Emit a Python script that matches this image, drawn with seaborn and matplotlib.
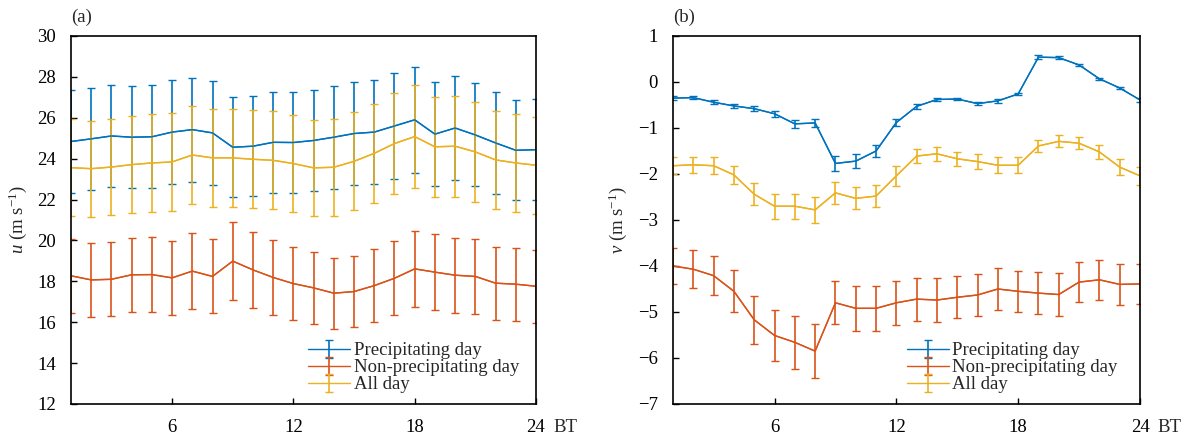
import numpy as np
import pandas as pd
import matplotlib
matplotlib.use("Agg")
import matplotlib.pyplot as plt
import seaborn as sns

hours = list(range(1, 25))
series_names = ["Precipitating day", "Non-precipitating day", "All day"]
colors = ["#0072BD", "#D95319", "#EDB120"]

# Panel (a): zonal wind u (m/s)
u_precip = [24.84, 24.97, 25.11, 25.05, 25.07, 25.30, 25.42, 25.26, 24.56, 24.61, 24.80, 24.79,
            24.89, 25.05, 25.23, 25.30, 25.60, 25.90, 25.20, 25.50, 25.16, 24.77, 24.41, 24.44]
u_precip_sd = [2.50, 2.50, 2.51, 2.50, 2.51, 2.53, 2.55, 2.54, 2.45, 2.46, 2.48, 2.48,
               2.48, 2.51, 2.53, 2.53, 2.58, 2.59, 2.54, 2.55, 2.52, 2.48, 2.45, 2.46]
u_nonprecip = [18.27, 18.07, 18.10, 18.32, 18.33, 18.17, 18.50, 18.24, 18.99, 18.56, 18.19, 17.89,
               17.68, 17.42, 17.50, 17.79, 18.15, 18.61, 18.45, 18.30, 18.24, 17.91, 17.86, 17.76]
u_nonprecip_sd = [1.82, 1.80, 1.80, 1.82, 1.83, 1.81, 1.85, 1.81, 1.90, 1.86, 1.82, 1.79,
                  1.76, 1.74, 1.75, 1.79, 1.82, 1.86, 1.85, 1.83, 1.83, 1.78, 1.79, 1.78]
u_all = [23.56, 23.51, 23.59, 23.71, 23.79, 23.84, 24.18, 24.04, 24.04, 23.97, 23.92, 23.76,
         23.55, 23.58, 23.87, 24.26, 24.74, 25.08, 24.58, 24.61, 24.33, 23.94, 23.79, 23.68]
u_all_sd = [2.37, 2.35, 2.36, 2.37, 2.38, 2.39, 2.42, 2.41, 2.40, 2.40, 2.40, 2.37,
            2.36, 2.36, 2.39, 2.42, 2.47, 2.50, 2.46, 2.47, 2.44, 2.41, 2.38, 2.37]

# Panel (b): meridional wind v (m/s)
v_precip = [-0.35, -0.34, -0.44, -0.52, -0.58, -0.69, -0.91, -0.89, -1.77, -1.72, -1.50, -0.88,
            -0.53, -0.38, -0.37, -0.47, -0.41, -0.26, 0.54, 0.53, 0.37, 0.07, -0.13, -0.39]
v_precip_sd = [0.04, 0.03, 0.04, 0.04, 0.05, 0.06, 0.09, 0.09, 0.17, 0.16, 0.14, 0.08,
               0.05, 0.03, 0.03, 0.04, 0.04, 0.03, 0.04, 0.04, 0.03, 0.02, 0.02, 0.04]
v_nonprecip = [-4.00, -4.07, -4.21, -4.55, -5.17, -5.51, -5.66, -5.85, -4.80, -4.92, -4.92, -4.80,
               -4.72, -4.74, -4.68, -4.63, -4.50, -4.55, -4.59, -4.62, -4.35, -4.30, -4.40, -4.39]
v_nonprecip_sd = [0.40, 0.41, 0.42, 0.46, 0.52, 0.55, 0.57, 0.59, 0.47, 0.49, 0.49, 0.48,
                  0.47, 0.47, 0.46, 0.46, 0.45, 0.45, 0.45, 0.46, 0.43, 0.43, 0.44, 0.44]
v_all = [-1.82, -1.80, -1.82, -2.02, -2.44, -2.70, -2.70, -2.78, -2.41, -2.53, -2.48, -2.04,
         -1.61, -1.56, -1.67, -1.73, -1.81, -1.81, -1.39, -1.29, -1.33, -1.52, -1.85, -2.04]
v_all_sd = [0.18, 0.18, 0.18, 0.19, 0.24, 0.27, 0.27, 0.28, 0.24, 0.24, 0.24, 0.21,
            0.16, 0.15, 0.15, 0.16, 0.17, 0.17, 0.14, 0.13, 0.13, 0.15, 0.18, 0.20]

x_ticks = [6, 12, 18, 24]
u_ticks = [12, 14, 16, 18, 20, 22, 24, 26, 28, 30]
v_ticks = [-7, -6, -5, -4, -3, -2, -1, 0, 1]

sns.set_theme(style="ticks")
plt.rcParams["font.family"] = ["Liberation Serif", "DejaVu Serif"]
plt.rcParams["mathtext.fontset"] = "custom"
plt.rcParams["mathtext.rm"] = "Liberation Serif"
plt.rcParams["mathtext.it"] = "Liberation Serif:italic"
plt.rcParams["axes.unicode_minus"] = True

FS = 13.5
fig = plt.figure(figsize=(11.85, 4.38), dpi=100)
ax_a = fig.add_axes([71 / 1185, 1 - 404 / 438, 465 / 1185, 368 / 438])
ax_b = fig.add_axes([673 / 1185, 1 - 404 / 438, 467 / 1185, 368 / 438])


def draw(ax, means, sds, ylim, yticks, ylabel, panel, leg_x):
    for name, m, s, c in zip(series_names, means, sds, colors):
        df = pd.DataFrame({"hour": hours, "val": m})
        sns.lineplot(data=df, x="hour", y="val", ax=ax, color=c, lw=1.0, legend=False)
        ax.errorbar(hours, m, yerr=s, fmt="-", color=c, lw=1.0, elinewidth=1.2,
                    capsize=3.0, capthick=1.0, label=name)
    ax.set_xlim(1, 24)
    ax.set_ylim(*ylim)
    ax.set_xticks(x_ticks)
    ax.set_yticks(yticks)
    ax.set_yticklabels([("\u2212" + str(-t)) if t < 0 else str(t) for t in yticks])
    ax.tick_params(direction="in", length=4, width=1, labelsize=FS, pad=11,
                   colors="black", top=False, right=False)
    for sp in ax.spines.values():
        sp.set_visible(True)
        sp.set_color("black")
        sp.set_linewidth(1.2)
    ax.set_xlabel("")
    ax.set_ylabel(ylabel, fontsize=FS, labelpad=6)
    trans = ax.get_xaxis_text1_transform(11)[0]
    ax.text(24.85, 0, "BT", transform=trans, va="top", ha="left", fontsize=FS, clip_on=False)
    ax.text(0.0, 1.052, panel, transform=ax.transAxes, ha="left", va="center", fontsize=FS)
    ax.legend(loc="lower left", bbox_to_anchor=(leg_x, 0.029), frameon=False, fontsize=FS,
              handlelength=2.25, handletextpad=0.2, labelspacing=0.0, borderpad=0,
              borderaxespad=0, handleheight=0.6)


draw(ax_a, [u_precip, u_nonprecip, u_all], [u_precip_sd, u_nonprecip_sd, u_all_sd],
     (12, 30), u_ticks, r"$u$ (m s$^{-1}$)", "(a)", 0.51)
draw(ax_b, [v_precip, v_nonprecip, v_all], [v_precip_sd, v_nonprecip_sd, v_all_sd],
     (-7, 1), v_ticks, r"$v$ (m s$^{-1}$)", "(b)", 0.50)

fig.savefig("out.png", dpi=100)
